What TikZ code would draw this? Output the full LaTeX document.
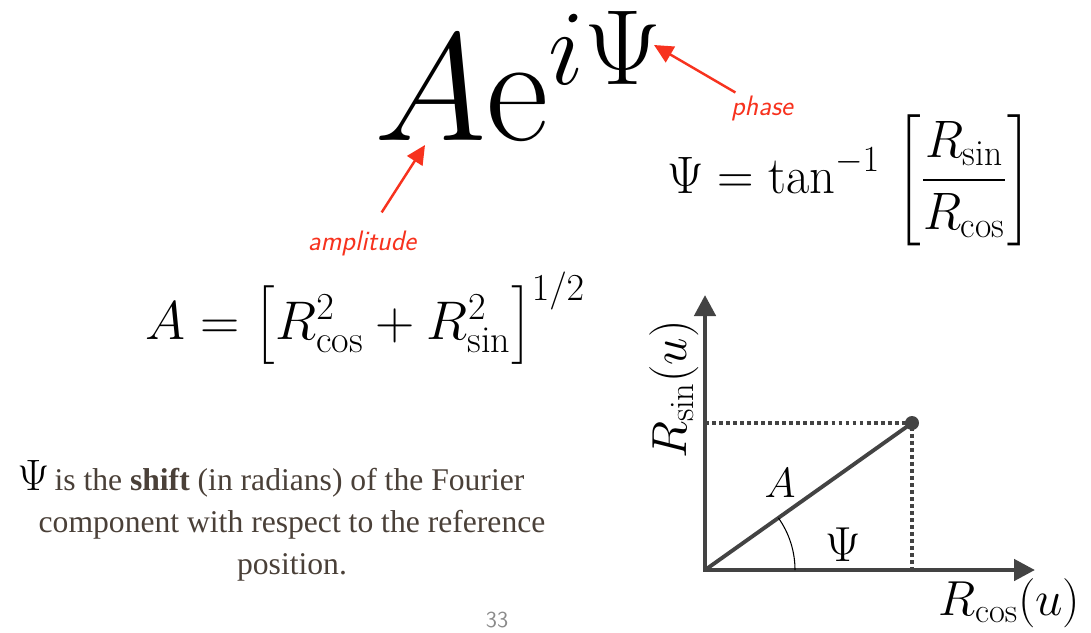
\RequirePackage{fix-cm}
\documentclass[tikz,border=0pt]{standalone}
\usepackage{amsmath}
\usepackage{fontspec}
\newfontfamily\bodyfont{Liberation Serif}
\usetikzlibrary{arrows.meta}
\definecolor{fqred}{HTML}{F7321E}
\definecolor{fqgray}{HTML}{434343}
\definecolor{fqbody}{HTML}{4A4038}
\definecolor{fqpage}{HTML}{8A8A8A}
\tikzstyle{fqnote}=[text=fqred,inner sep=0pt,font=\fontsize{16}{16}\selectfont\sffamily\itshape]
\tikzstyle{fqarrow}=[draw=fqred,line width=1.4pt,-{Triangle[length=3.8mm,width=3.6mm]}]
\tikzstyle{fqaxis}=[draw=fqgray,line width=2.6pt,line join=miter,{Triangle[length=4.2mm,width=4.2mm]}-{Triangle[length=4.2mm,width=4.2mm]}]
\tikzstyle{fqguide}=[draw=fqgray,line width=2.2pt,dash pattern=on 2.2pt off 1.8pt]
\tikzstyle{fqmath}=[inner sep=0pt]

\begin{document}
\begin{tikzpicture}[x=0.02cm,y=-0.02cm]
  \useasboundingbox (0,0) rectangle (1091,632);
  % formulas
  \node[fqmath,anchor=base west,font=\fontsize{87}{87}\selectfont] (euler) at (374,140) {$A\mathrm{e}^{i\Psi}$};
  \node[fqmath,anchor=base east,xscale=0.96,font=\fontsize{30}{30}\selectfont] (phaseeq) at (1032,193) {$\displaystyle\Psi=\tan^{-1}\,\left[\frac{R_{\mathrm{sin}}}{R_{\mathrm{cos}}}\right]$};
  \node[fqmath,anchor=base west,font=\fontsize{31}{31}\selectfont] (ampeq) at (145,339) {$A=\bigl[R_{\mathrm{cos}}^2+R_{\mathrm{sin}}^2\bigr]^{1/2}$};
  % red notes
  \node[fqnote] (phase) at (762,108) {phase};
  \node[fqnote] (amp) at (362,243) {amplitude};
  \coordinate (psitip) at (654,45);
  \coordinate (atip) at (425,145);
  \draw[fqarrow,shorten <=3pt] (phase) -- (psitip);
  \draw[fqarrow,shorten <=12pt] (amp) -- (atip);
  % phasor plot
  \coordinate (O) at (705,570);
  \coordinate (xend) at (1035,570);
  \coordinate (yend) at (705,295);
  \node[circle,fill=fqgray,inner sep=0pt,minimum size=0.28cm] (P) at (912,423) {};
  \draw[fqguide] (O |- P) -- (P.center) -- (P.center |- O);
  \draw[fqaxis] (yend) -- (O) -- (xend);
  \draw[draw=fqgray,line width=2.2pt] (O) -- (P.center);
  \draw[line width=0.6pt] (O) ++(90,0) arc[start angle=0,end angle=35.4,radius=1.8cm];
  \node[fqmath,font=\fontsize{24}{24}\selectfont] (alabel) at (780,483) {$A$};
  \node[fqmath,font=\fontsize{28}{28}\selectfont] (psilabel) at (843,545) {$\Psi$};
  \node[fqmath,anchor=base west,font=\fontsize{28}{28}\selectfont] (xlabel) at (938,615) {$R_{\mathrm{cos}}(u)$};
  \node[fqmath,anchor=base west,rotate=90,font=\fontsize{28}{28}\selectfont] (ylabel) at (686,459) {$R_{\mathrm{sin}}(u)$};
  % caption
  \node[align=center,text=fqbody,font=\fontsize{18}{23.8}\selectfont\bodyfont] (caption) at (292,521)
    {{\color{black}\fontsize{25}{25}\selectfont$\Psi$}\,is the \textbf{shift} (in radians) of the Fourier\hspace*{0.84cm}\\ component with respect to the reference\\ position.};
  \node[text=fqpage,font=\fontsize{13}{13}\selectfont\sffamily] (pagenum) at (497,620) {33};
\end{tikzpicture}
\end{document}
